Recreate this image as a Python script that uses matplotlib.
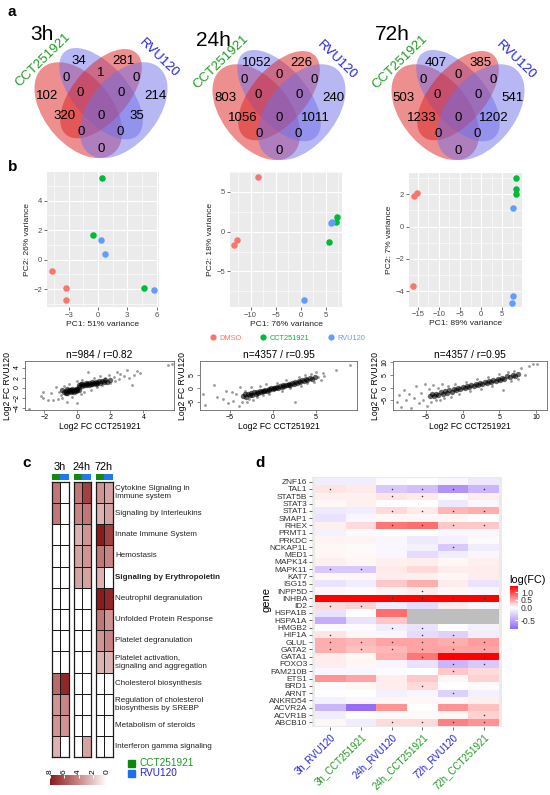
import numpy as np
import matplotlib
matplotlib.use("Agg")
import matplotlib.pyplot as plt
from matplotlib.patches import Ellipse, Rectangle
from matplotlib.lines import Line2D
from matplotlib.colors import LinearSegmentedColormap, TwoSlopeNorm, Normalize
from matplotlib.ticker import AutoMinorLocator
import matplotlib.colorbar as mcb

plt.rcParams['font.family'] = ['Liberation Sans', 'DejaVu Sans']

W, H = 550, 795

# ---------------- data ----------------
venn_times = ['3h', '24h', '72h']
# regions: B, C, AB, BC, CD, A, ABC, BCD, D, AC, ABCD, BD, ABD, ACD, AD
venn_3h = [34, 281, 0, 1, 0, 102, 0, 0, 214, 320, 0, 35, 0, 0, 0]
venn_24h = [1052, 226, 0, 0, 0, 803, 0, 0, 240, 1056, 0, 1011, 0, 0, 0]
venn_72h = [407, 385, 0, 0, 0, 503, 0, 0, 541, 1233, 0, 1202, 0, 0, 0]

pca_groups = ['DMSO', 'CCT251921', 'RVU120']
pca_colors = ['#F8766D', '#00BA38', '#619CFF']
pca_group_idx = [0, 0, 0, 1, 1, 1, 2, 2, 2]
pc1_3h = [-4.74, -3.31, -3.24, 0.44, -0.55, 4.71, 0.27, 0.75, 5.77]
pc2_3h = [-0.74, -1.91, -2.75, 5.54, 1.67, -1.89, 1.31, 0.36, -2.05]
pc1_24h = [-8.48, -12.68, -13.28, 7.26, 7.06, 5.73, 6.0, 6.3, 0.73]
pc2_24h = [6.85, -1.05, -1.68, 1.81, 1.18, -1.33, 1.13, 1.2, -8.6]
pc1_72h = [-16.0, -15.2, -16.07, 8.29, 8.2, 8.29, 7.5, 7.67, 7.26]
pc2_72h = [1.91, 2.06, -3.66, 2.99, 2.33, 2.0, 1.17, -4.28, -4.69]
pc1_var = [51, 76, 89]
pc2_var = [26, 18, 7]

fc_titles = ['n=984 / r=0.82', 'n=4357 / r=0.95', 'n=4357 / r=0.95']
fc1_core = [(-0.8, -0.9), (-0.7, -0.6), (-0.6, -1.0), (-0.5, -0.7), (-0.5, -0.4), (-0.4, -0.9),
            (-0.4, -0.5), (-0.3, -0.7), (-0.3, -0.3), (-0.2, -0.8), (-0.2, -0.5), (-0.1, -0.6),
            (-0.1, -0.3), (0.0, -0.5), (0.0, -0.2), (0.1, -0.4), (0.1, 0.1), (-0.6, -0.3),
            (-0.9, -0.5), (-0.7, -1.1), (0.1, 0.5), (0.2, 0.7), (0.3, 0.4), (0.3, 0.8), (0.4, 0.6),
            (0.5, 0.9), (0.5, 0.5), (0.6, 0.7), (0.7, 1.0), (0.7, 0.6), (0.8, 0.8), (0.9, 1.1),
            (0.9, 0.7), (1.0, 0.9), (1.1, 1.2), (1.1, 0.8), (1.2, 1.0), (1.3, 1.3), (1.4, 1.0),
            (1.5, 1.4), (1.6, 1.1), (1.7, 1.5), (1.8, 1.2), (2.0, 1.6)]
fc1_rest = [(-2.9, -4.2), (-2.2, -1.7), (-2.1, -0.9), (-2.1, -2.1), (-1.8, -2.5), (-1.6, -1.0),
            (-1.45, -2.5), (-1.3, 0.2), (-1.2, -2.2), (-1.1, -0.8), (-1.0, -1.4), (-0.9, -2.0),
            (-0.8, 0.4), (-0.6, -2.8), (-0.5, 0.8), (-0.3, -1.8), (0.0, -3.0), (0.0, 1.3),
            (0.2, -1.2), (0.3, 1.6), (0.4, -0.8), (0.67, 3.1), (0.8, -0.4), (1.0, 2.0), (1.2, 0.2),
            (1.4, 2.4), (1.5, 0.5), (1.7, 2.0), (1.9, 2.6), (2.0, 0.9), (2.2, 2.2), (2.3, 1.3),
            (2.4, 3.1), (2.5, 1.8), (2.6, 2.7), (2.8, 2.4), (3.0, 3.5), (3.1, 2.0), (3.3, 0.6),
            (3.6, 3.3), (3.4, 2.6), (3.8, 3.0), (5.5, 4.6), (5.7, 4.8)]
fc2_core = [(-3.5, -2.8), (-3.3, -2.2), (-3.1, -3.0), (-2.9, -2.1), (-2.7, -2.6), (-2.5, -1.8),
            (-2.4, -2.4), (-2.2, -1.5), (-2.0, -2.0), (-1.9, -1.3), (-1.7, -1.6), (-1.5, -1.0),
            (-1.4, -1.5), (-1.2, -0.8), (-1.0, -1.1), (-0.9, -0.5), (-0.7, -0.8), (-0.5, -0.3),
            (-0.4, -0.6), (-0.2, 0.0), (0.0, -0.2), (0.1, 0.3), (0.3, 0.1), (0.5, 0.6), (0.6, 0.3),
            (0.8, 0.9), (1.0, 0.6), (1.2, 1.2), (1.3, 0.9), (1.5, 1.4), (1.7, 1.1), (1.9, 1.7),
            (2.0, 1.4), (2.2, 2.0), (2.4, 1.7), (2.6, 2.3), (2.8, 2.0), (3.0, 2.6), (3.2, 2.3),
            (3.4, 3.0), (3.6, 2.7), (3.8, 3.3), (4.0, 3.0), (4.3, 3.7), (4.6, 3.4), (4.9, 4.2)]
fc2_rest = [(-8.2, -2.2), (-7.9, -6.1), (-6.9, 1.2), (-6.5, -3.0), (-5.8, -3.7), (-5.5, -0.8),
            (-5.2, -5.5), (-4.8, -1.5), (-4.6, -4.5), (-4.3, -2.0), (-4.0, -6.5), (-3.8, 0.5),
            (-3.6, -4.8), (-3.2, -0.8), (-3.0, -5.0), (-2.8, -3.8), (-2.5, 0.5), (-2.3, -4.2),
            (-1.8, -3.0), (-1.5, 1.0), (-1.2, -2.5), (-0.8, 1.5), (-0.5, -2.0), (0.5, 2.0),
            (1.0, -1.0), (1.5, 3.0), (2.0, 0.0), (2.6, -4.9), (3.0, 4.2), (3.3, 1.0), (3.7, 4.8),
            (4.0, 1.8), (4.4, 5.2), (4.8, 2.5), (5.0, 5.8), (5.3, 4.0), (5.6, 3.2), (5.8, 5.5),
            (6.0, 4.5), (7.3, 6.7), (9.0, 8.5)]
fc3_core = [(-4.5, -3.2), (-4.2, -2.6), (-3.9, -3.4), (-3.6, -2.4), (-3.3, -2.9), (-3.0, -1.9),
            (-2.7, -2.5), (-2.4, -1.5), (-2.1, -2.0), (-1.8, -1.1), (-1.5, -1.6), (-1.2, -0.7),
            (-0.9, -1.1), (-0.6, -0.3), (-0.3, -0.6), (0.0, 0.1), (0.3, -0.2), (0.6, 0.6),
            (0.9, 0.3), (1.2, 1.0), (1.5, 0.7), (1.8, 1.4), (2.1, 1.1), (2.4, 1.8), (2.7, 1.5),
            (3.0, 2.2), (3.3, 1.9), (3.6, 2.6), (3.9, 2.3), (4.2, 3.0), (4.5, 2.7), (4.8, 3.4),
            (5.1, 3.1), (5.4, 3.9), (5.7, 3.5), (6.0, 4.3), (6.4, 4.0), (6.8, 4.8), (7.2, 4.5),
            (7.6, 5.4)]
fc3_rest = [(-9.0, -5.5), (-8.7, -3.0), (-8.4, -7.5), (-8.0, -1.0), (-7.7, -5.0), (-7.3, -2.5),
            (-7.0, -8.0), (-6.6, -4.0), (-6.3, 0.5), (-6.0, -6.0), (-5.7, -2.0), (-5.4, -4.8),
            (-5.1, 1.5), (-4.9, -7.0), (-4.6, -0.5), (-4.3, -5.5), (-4.0, 1.0), (-3.7, -4.8),
            (-3.4, 0.0), (-3.1, -5.0), (-2.8, 1.2), (-2.5, -4.0), (-2.0, 0.8), (-1.6, -3.5),
            (-1.0, 1.5), (-0.5, -2.5), (0.5, 2.2), (1.0, -1.5), (2.0, 3.2), (2.5, -0.5),
            (3.5, 4.0), (4.0, 0.8), (5.0, 5.2), (5.5, -1.0), (6.2, 6.0), (6.6, 2.5), (7.0, 6.5),
            (7.5, 3.5), (8.0, 7.5), (8.5, 5.0), (9.0, 8.5), (9.6, 9.2), (10.2, 9.0)]

pathways = ['Cytokine Signaling in\nImmune system', 'Signaling by Interleukins',
            'Innate Immune System', 'Hemostasis', 'Signaling by Erythropoietin',
            'Neutrophil degranulation', 'Unfolded Protein Response', 'Platelet degranulation',
            'Platelet activation,\nsignaling and aggregation', 'Cholesterol biosynthesis',
            'Regulation of cholesterol\nbiosynthesis by SREBP', 'Metabolism of steroids',
            'Interferon gamma signaling']
path_cct_3h = [4.5, 4.5, 0, 0, 0, 0, 0, 0, 0, 5.0, 3.5, 3.5, 2.5]
path_rvu_3h = [0, 0, 0, 0, 0, 0, 0, 0, 0, 7.5, 4.0, 3.5, 0]
path_cct_24h = [4.5, 4.0, 2.5, 3.0, 3.0, 0, 0, 0, 0, 0, 0, 0, 0]
path_rvu_24h = [6.5, 4.5, 3.5, 3.5, 3.0, 0, 0, 0, 0, 0, 0, 0, 3.0]
path_cct_72h = [3.5, 2.5, 8.0, 4.5, 2.5, 8.0, 4.5, 3.5, 2.5, 0, 0, 0, 0]
path_rvu_72h = [3.0, 3.0, 6.5, 4.0, 0, 7.5, 3.5, 4.0, 2.5, 0, 0, 0, 0]

genes = ['ZNF16', 'TAL1', 'STAT5B', 'STAT3', 'STAT1', 'SMAP1', 'RHEX', 'PRMT1', 'PRKDC',
         'NCKAP1L', 'MED1', 'MAPK14', 'MAPK11', 'KAT7', 'ISG15', 'INPP5D', 'INHBA', 'ID2',
         'HSPA1B', 'HSPA1A', 'HMGB2', 'HIF1A', 'GLUL', 'GATA2', 'GATA1', 'FOXO3', 'FAM210B',
         'ETS1', 'BRD1', 'ARNT', 'ANKRD54', 'ACVR2A', 'ACVR1B', 'ABCB10']
conditions = ['3h_RVU120', '3h_CCT251921', '24h_RVU120', '24h_CCT251921',
              '72h_RVU120', '72h_CCT251921']
nan = np.nan
fc_3h_rvu = [-0.10, 0.15, 0.08, 0.05, -0.12, -0.15, 0.08, -0.08, 0.06, 0.05, 0.05, 0.08, -0.30,
             0.05, -0.15, 0.05, 1.40, 0.20, -0.15, -0.45, -0.02, 0.15, 0.45, 0.45, 0.10, 0.10,
             -0.05, 0.60, -0.02, 0.00, -0.08, -0.40, -0.10, 0.05]
fc_3h_cct = [-0.10, 0.12, 0.08, 0.08, -0.10, -0.05, 0.20, -0.03, 0.06, 0.03, 0.04, 0.05, -0.30,
             0.05, -0.10, 0.03, 1.40, 0.25, 0.00, -0.15, -0.02, 0.05, 0.40, 0.35, 0.05, 0.05,
             -0.05, 0.50, 0.05, 0.00, -0.05, -0.80, 0.00, -0.10]
fc_24h_rvu = [-0.02, -0.30, 0.15, 0.00, 0.20, 0.05, 0.75, 0.00, -0.05, -0.05, -0.05, 0.08, 0.12,
              0.10, 0.30, 0.06, 1.40, -0.10, 0.80, 0.30, -0.10, -0.05, 0.50, 0.40, 0.45, -0.05,
              -0.02, 0.10, 0.10, -0.08, 0.05, 0.60, 0.03, 0.20]
fc_24h_cct = [0.00, -0.35, 0.12, 0.00, 0.12, 0.05, 0.80, 0.00, -0.12, -0.08, -0.20, 0.10, 0.20,
              0.08, 0.45, 0.10, 1.40, -0.20, nan, nan, -0.15, -0.20, 0.50, 0.50, 0.75, -0.15,
              0.00, 0.30, 0.20, -0.05, 0.05, 0.00, 0.03, 0.20]
fc_72h_rvu = [-0.05, -0.60, 0.00, -0.12, 0.40, 0.05, 0.30, -0.05, -0.08, -0.30, -0.10, 0.05, 0.10,
              0.05, 0.10, 0.05, 1.40, 0.10, nan, nan, 0.00, -0.25, 0.45, 0.50, 1.40, -0.40,
              0.30, 0.05, 0.00, -0.25, 0.05, 0.60, 0.05, 0.70]
fc_72h_cct = [-0.12, -0.40, 0.10, -0.05, 0.45, 0.00, 0.30, -0.05, 0.03, -0.10, -0.05, 0.08, 0.10,
              0.10, -0.15, -0.05, 1.40, -0.05, nan, nan, -0.08, -0.10, 0.55, 0.50, 1.40, -0.30,
              0.20, 0.25, 0.03, -0.08, 0.08, 0.35, 0.25, 0.60]
sig_genes = {
    '3h_RVU120': ['TAL1', 'MAPK11', 'ID2', 'HIF1A', 'GLUL', 'GATA2'],
    '3h_CCT251921': ['MAPK11', 'ID2', 'GLUL', 'GATA2'],
    '24h_RVU120': ['TAL1', 'STAT5B', 'STAT1', 'RHEX', 'INHBA', 'HMGB2', 'GLUL', 'GATA2', 'ABCB10'],
    '24h_CCT251921': ['TAL1', 'STAT5B', 'STAT1', 'RHEX', 'INPP5D', 'INHBA', 'HMGB2', 'HIF1A',
                      'GLUL', 'GATA2', 'GATA1', 'BRD1', 'ABCB10'],
    '72h_RVU120': ['TAL1', 'STAT1', 'RHEX', 'NCKAP1L', 'INHBA', 'HIF1A', 'GLUL', 'GATA2', 'GATA1',
                   'FOXO3', 'FAM210B', 'ARNT', 'ABCB10'],
    '72h_CCT251921': ['TAL1', 'STAT1', 'RHEX', 'INHBA', 'GLUL', 'GATA2', 'GATA1', 'FOXO3',
                      'ACVR1B', 'ABCB10'],
}

GREEN_TXT = '#1f9a1f'
BLUE_TXT = '#2020e6'


def px_axes(fig, x, y, w, h):
    return fig.add_axes([x / W, 1 - (y + h) / H, w / W, h / H])


def ftext(fig, x, y, s, **kw):
    return fig.text(x / W, 1 - y / H, s, **kw)


fig = plt.figure(figsize=(5.5, 7.95), dpi=100)

for lab, x, y in [('a', 8, 12), ('b', 8, 167), ('c', 22, 463), ('d', 255, 463)]:
    ftext(fig, x, y, lab, fontsize=11, fontweight='bold', va='center', ha='left')

# ---------------- a: venn diagrams ----------------
# (x, y, semi-major, semi-minor, angle, colour)
ellipses = [(0.35, 0.47, 0.35, 0.215, 135, '#dc2020'),
            (0.50, 0.57, 0.35, 0.175, 135, '#7070ea'),
            (0.50, 0.57, 0.34, 0.175, 45, '#dc2020'),
            (0.65, 0.47, 0.35, 0.215, 45, '#7070ea')]
region_pos = [(0.352, 0.768), (0.648, 0.768), (0.268, 0.665), (0.5, 0.695), (0.732, 0.665),
              (0.142, 0.556), (0.365, 0.574), (0.635, 0.574), (0.858, 0.556), (0.26, 0.435),
              (0.5, 0.435), (0.74, 0.435), (0.372, 0.338), (0.628, 0.338), (0.5, 0.235)]
venn_cx = [101, 279, 458]
venn_top = [48, 50, 50]
title_pos = [(42, 35), (213, 40), (392, 34)]
sx, sy = 151.0, 165.0
y_top_unit = 0.8467
for k, counts in enumerate([venn_3h, venn_24h, venn_72h]):
    ax = px_axes(fig, venn_cx[k] - 0.6 * sx, venn_top[k] - (0.92 - y_top_unit) * sy,
                 1.2 * sx, 0.8 * sy)
    ax.set_xlim(-0.1, 1.1)
    ax.set_ylim(0.12, 0.92)
    ax.axis('off')
    for ex, ey, ea, eb, ang, col in ellipses:
        ax.add_patch(Ellipse((ex, ey), 2 * ea, 2 * eb, angle=ang, facecolor=col, alpha=0.5,
                             lw=0))
    for n, (ux, uy) in zip(counts, region_pos):
        ax.text(ux, uy, str(n), ha='center', va='center', fontsize=9.5)
    ax.text(0.118, 0.775, 'CCT251921', rotation=44, color=GREEN_TXT, fontsize=9.5,
            ha='center', va='center')
    ax.text(0.885, 0.785, 'RVU120', rotation=-44, color=BLUE_TXT, fontsize=9.5,
            ha='center', va='center')
    tx, ty = title_pos[k]
    ftext(fig, tx, ty, venn_times[k], fontsize=15, ha='center', va='center')

# ---------------- b: PCA ----------------
pca_boxes = [(47, 172, 112, 135), (230, 172, 112, 135), (409, 172.5, 113, 134)]
pca_xlim = [(-5.2, 6.24), (-14.1, 8.26), (-17.1, 9.7)]
pca_ylim = [(-3.2, 5.93), (-9.48, 7.5), (-4.93, 3.33)]
pca_xt = [[-3, 0, 3, 6], [-10, -5, 0, 5], [-15, -10, -5, 0, 5]]
pca_yt = [[-2, 0, 2, 4], [-5, 0, 5], [-4, -2, 0, 2]]
pcs = [(pc1_3h, pc2_3h), (pc1_24h, pc2_24h), (pc1_72h, pc2_72h)]
grp = np.array(pca_group_idx)
for k in range(3):
    ax = px_axes(fig, *pca_boxes[k])
    ax.set_facecolor('#EBEBEB')
    for sp in ax.spines.values():
        sp.set_visible(False)
    ax.set_xlim(*pca_xlim[k])
    ax.set_ylim(*pca_ylim[k])
    ax.set_xticks(pca_xt[k])
    ax.set_yticks(pca_yt[k])
    ax.xaxis.set_minor_locator(AutoMinorLocator(2))
    ax.yaxis.set_minor_locator(AutoMinorLocator(2))
    ax.grid(True, which='major', color='white', lw=0.8)
    ax.grid(True, which='minor', color='white', lw=0.4)
    ax.set_axisbelow(True)
    ax.tick_params(which='major', length=2, width=0.5, color='#333333', labelsize=5.5,
                   labelcolor='#4D4D4D', pad=1.5)
    ax.tick_params(which='minor', length=0)
    x = np.array(pcs[k][0])
    y = np.array(pcs[k][1])
    for g in range(3):
        m = grp == g
        ax.scatter(x[m], y[m], s=22, color=pca_colors[g], lw=0, zorder=3)
    ax.set_xlabel('PC1: %d%% variance' % pc1_var[k], fontsize=6.1, labelpad=1.5, color='#222222')
    ax.set_ylabel('PC2: %d%% variance' % pc2_var[k], fontsize=6.1, labelpad=1.5, color='#222222')

handles = [Line2D([], [], ls='', marker='o', markersize=4.5, markerfacecolor=c,
                  markeredgewidth=0) for c in pca_colors]
leg = fig.legend(handles, pca_groups, ncol=3, loc='center', bbox_to_anchor=(288 / W, 1 - 338 / H),
                 frameon=False, fontsize=5.3, handlelength=0.6, handletextpad=0.6,
                 columnspacing=2.6)
for t, c in zip(leg.get_texts(), pca_colors):
    t.set_color(c)

# ---------------- b: fold-change scatter ----------------
fc_boxes = [(25, 361, 149, 49), (200, 361, 157, 49), (393, 361, 154, 49)]
fc_xlim = [(-3.17, 5.85), (-8.5, 9.8), (-9.5, 11.5)]
fc_ylim = [(-4.5, 5.3), (-7.9, 10.0), (-8.7, 10.3)]
fc_xt = [[-2, 0, 2, 4], [-5, 0, 5], [-5, 0, 5, 10]]
fc_yt = [[-4, -2, 0, 2, 4], [-5, 0, 5], [-5, 0, 5, 10]]
fc_sets = [(fc1_core, fc1_rest), (fc2_core, fc2_rest), (fc3_core, fc3_rest)]
for k in range(3):
    ax = px_axes(fig, *fc_boxes[k])
    core = np.array(fc_sets[k][0])
    rest = np.array(fc_sets[k][1])
    ax.scatter(rest[:, 0], rest[:, 1], s=4, color='k', alpha=0.4, lw=0)
    ax.scatter(core[:, 0], core[:, 1], s=15, color='k', alpha=0.6, lw=0)
    ax.set_xlim(*fc_xlim[k])
    ax.set_ylim(*fc_ylim[k])
    ax.set_xticks(fc_xt[k])
    ax.set_yticks(fc_yt[k])
    for sp in ax.spines.values():
        sp.set_color('#666666')
        sp.set_linewidth(0.6)
    ax.tick_params(length=2, width=0.5, color='#555555', labelsize=5, pad=1)
    for lbl in ax.get_yticklabels():
        lbl.set_rotation(90)
        lbl.set_va('center')
    ax.set_title(fc_titles[k], fontsize=7.3, pad=2)
    ax.set_xlabel('Log2 FC CCT251921', fontsize=6.2, labelpad=0.5)
    ax.set_ylabel('Log2 FC RVU120', fontsize=6.2, labelpad=1)

# ---------------- c: pathway heatmap ----------------
cmap_c = LinearSegmentedColormap.from_list('c', ['#ffffff', '#c98585', '#8b1a1a'])
norm_c = Normalize(0, 8)
pair_x = [51.5, 73.5, 95.5]
row_top, row_h = 481.7, 21.2
n_rows = len(pathways)
pairs = [(path_cct_3h, path_rvu_3h), (path_cct_24h, path_rvu_24h), (path_cct_72h, path_rvu_72h)]
for k, (cv, rv) in enumerate(pairs):
    ax = px_axes(fig, pair_x[k], row_top, 17, row_h * n_rows)
    vals = np.column_stack([cv, rv])
    ax.pcolormesh(vals, cmap=cmap_c, norm=norm_c, edgecolors='#1a1a1a', linewidth=0.7)
    ax.set_xlim(0, 2)
    ax.set_ylim(n_rows, 0)
    ax.set_xticks([])
    ax.set_yticks([])
    for sp in ax.spines.values():
        sp.set_linewidth(0.9)
        sp.set_color('#1a1a1a')
    bar = px_axes(fig, pair_x[k], 474, 17, 6)
    bar.add_patch(Rectangle((0, 0), 1, 1, color='#128a12'))
    bar.add_patch(Rectangle((1, 0), 1, 1, color='#1e78f0'))
    bar.set_xlim(0, 2)
    bar.set_ylim(0, 1)
    bar.axis('off')
    ftext(fig, pair_x[k] + 8.5, 467, venn_times[k], fontsize=7.8, ha='center', va='center')

for i, name in enumerate(pathways):
    yc = row_top + row_h * (i + 0.5)
    ftext(fig, 115, yc, name, fontsize=5.8, ha='left', va='center', linespacing=1.25,
          color='#222222', fontweight='bold' if name == 'Signaling by Erythropoietin' else 'normal')

cax = px_axes(fig, 50, 775, 57, 10)
cb = mcb.ColorbarBase(cax, cmap=cmap_c, norm=norm_c, orientation='horizontal')
cb.outline.set_visible(False)
cax.invert_xaxis()
cb.set_ticks([0, 2, 4, 6, 8])
cax.tick_params(axis='x', top=True, labeltop=True, bottom=False, labelbottom=False,
                direction='in', color='white', length=2, labelsize=6, pad=1)
for lbl in cax.get_xticklabels():
    lbl.set_rotation(90)

for yy, col, txt in [(763.3, '#0a8a0a', 'CCT251921'), (773.3, '#1e6ef0', 'RVU120')]:
    fig.add_artist(Rectangle(((131.7 - 3.5) / W, 1 - (yy + 3.5) / H), 7 / W, 7 / H,
                             color=col, transform=fig.transFigure))
    ftext(fig, 139, yy, txt, fontsize=7.2, ha='left', va='center',
          color=GREEN_TXT if txt == 'CCT251921' else BLUE_TXT)

# ---------------- d: gene heatmap ----------------
cmap_d = LinearSegmentedColormap.from_list('d', ['#9468f8', '#ffffff', '#ff0000'])
cmap_d.set_bad('#bebebe')
norm_d = TwoSlopeNorm(vmin=-0.83, vcenter=0.0, vmax=1.41)
fc_cols = [fc_3h_rvu, fc_3h_cct, fc_24h_rvu, fc_24h_cct, fc_72h_rvu, fc_72h_cct]
mat = np.ma.masked_invalid(np.column_stack(fc_cols))
axd = px_axes(fig, 312, 477.3, 190, 249.4)
axd.set_facecolor('#EBEBEB')
ng = len(genes)
axd.pcolormesh(np.arange(7) - 0.5, np.arange(ng + 1) - 0.5, mat, cmap=cmap_d, norm=norm_d)
for j, cond in enumerate(conditions):
    rows = [genes.index(g) for g in sig_genes[cond]]
    axd.scatter([j] * len(rows), rows, s=1.2, color='#333333', lw=0, zorder=3)
axd.set_xlim(-0.6, 5.6)
axd.set_ylim(ng - 0.4, -0.6)
for sp in axd.spines.values():
    sp.set_visible(False)
axd.set_yticks(range(ng))
axd.set_yticklabels(genes, fontsize=6, color='#333333')
axd.set_xticks(range(6))
axd.set_xticklabels(conditions, fontsize=7, rotation=45, ha='right', va='top',
                    rotation_mode='anchor')
for j, lbl in enumerate(axd.get_xticklabels()):
    lbl.set_color(BLUE_TXT if 'RVU' in conditions[j] else GREEN_TXT)
axd.tick_params(length=2.5, width=0.5, color='#333333', pad=1)
ftext(fig, 266, 600, 'gene', fontsize=8, rotation=90, ha='center', va='center')

caxd = px_axes(fig, 510, 586, 8.3, 43)
cbd = mcb.ColorbarBase(caxd, cmap=cmap_d, norm=norm_d, orientation='vertical')
cbd.outline.set_visible(False)
cbd.set_ticks([-0.5, 0.0, 0.5, 1.0])
cbd.set_ticklabels(['-0.5', '0.0', '0.5', '1.0'])
caxd.tick_params(direction='in', color='white', length=2, labelsize=6.2, pad=2,
                 labelcolor='#333333')
ftext(fig, 509, 580, 'log(FC)', fontsize=7.8, ha='left', va='center')

fig.savefig('out.png', dpi=100)
